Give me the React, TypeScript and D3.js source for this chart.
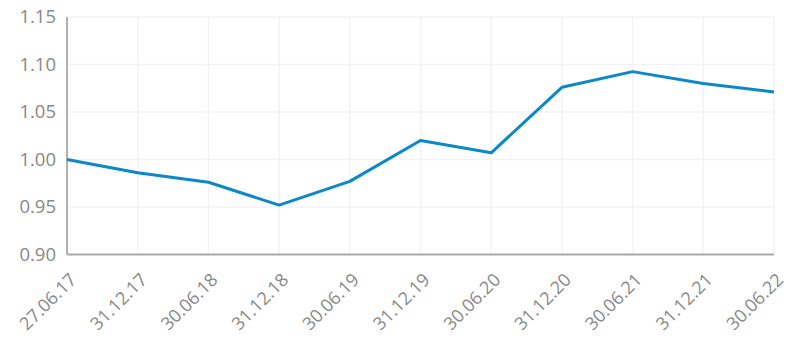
import React from "react";
import * as d3 from "d3";

const dates = ["27.06.17", "31.12.17", "30.06.18", "31.12.18", "30.06.19", "31.12.19", "30.06.20", "31.12.20", "30.06.21", "31.12.21", "30.06.22"];
const values = [1.0, 0.986, 0.976, 0.952, 0.977, 1.02, 1.007, 1.076, 1.0925, 1.08, 1.071];
const yTicks = [0.9, 0.95, 1.0, 1.05, 1.1, 1.15];

const W = 800, H = 361;
const left = 67, right = 774, top = 17, bottom = 254.5;

export default function App() {
  const x = d3.scalePoint<string>().domain(dates).range([left, right]);
  const y = d3.scaleLinear().domain([0.9, 1.15]).range([bottom, top]);
  const line = d3.line<number>().x((_, i) => x(dates[i])!).y((d) => y(d));
  const font = "'Open Sans', sans-serif";
  return (
    <svg width={W} height={H} style={{ position: "absolute", left: 0, top: 0, display: "block" }}>
      <rect width={W} height={H} fill="#fff" />
      {yTicks.map((t) => (
        <line key={"g" + t} x1={left} x2={right} y1={y(t)} y2={y(t)} stroke="#f3f3f7" strokeWidth={1.5} />
      ))}
      {dates.map((d) => (
        <line key={"v" + d} x1={x(d)} x2={x(d)} y1={top} y2={bottom} stroke="#f3f3f7" strokeWidth={1.5} />
      ))}
      <line x1={left} x2={left} y1={top} y2={bottom} stroke="#999" strokeWidth={1.5} />
      <line x1={left} x2={right} y1={bottom} y2={bottom} stroke="#aaa" strokeWidth={2} />
      {yTicks.map((t) => (
        <text key={"t" + t} x={left - 11} y={y(t)} dy="0.35em" textAnchor="end" fontFamily={font} fontSize={18.5} fill="#888">
          {t.toFixed(2)}
        </text>
      ))}
      {dates.map((d) => (
        <text key={"x" + d} transform={`translate(${x(d)! + 6},${bottom + 22}) rotate(-45)`} textAnchor="end" dy="0.35em" fontFamily={font} fontSize={18} fill="#888">
          {d}
        </text>
      ))}
      <path d={line(values)!} fill="none" stroke="#0a88c8" strokeWidth={3} strokeLinejoin="round" />
    </svg>
  );
}
